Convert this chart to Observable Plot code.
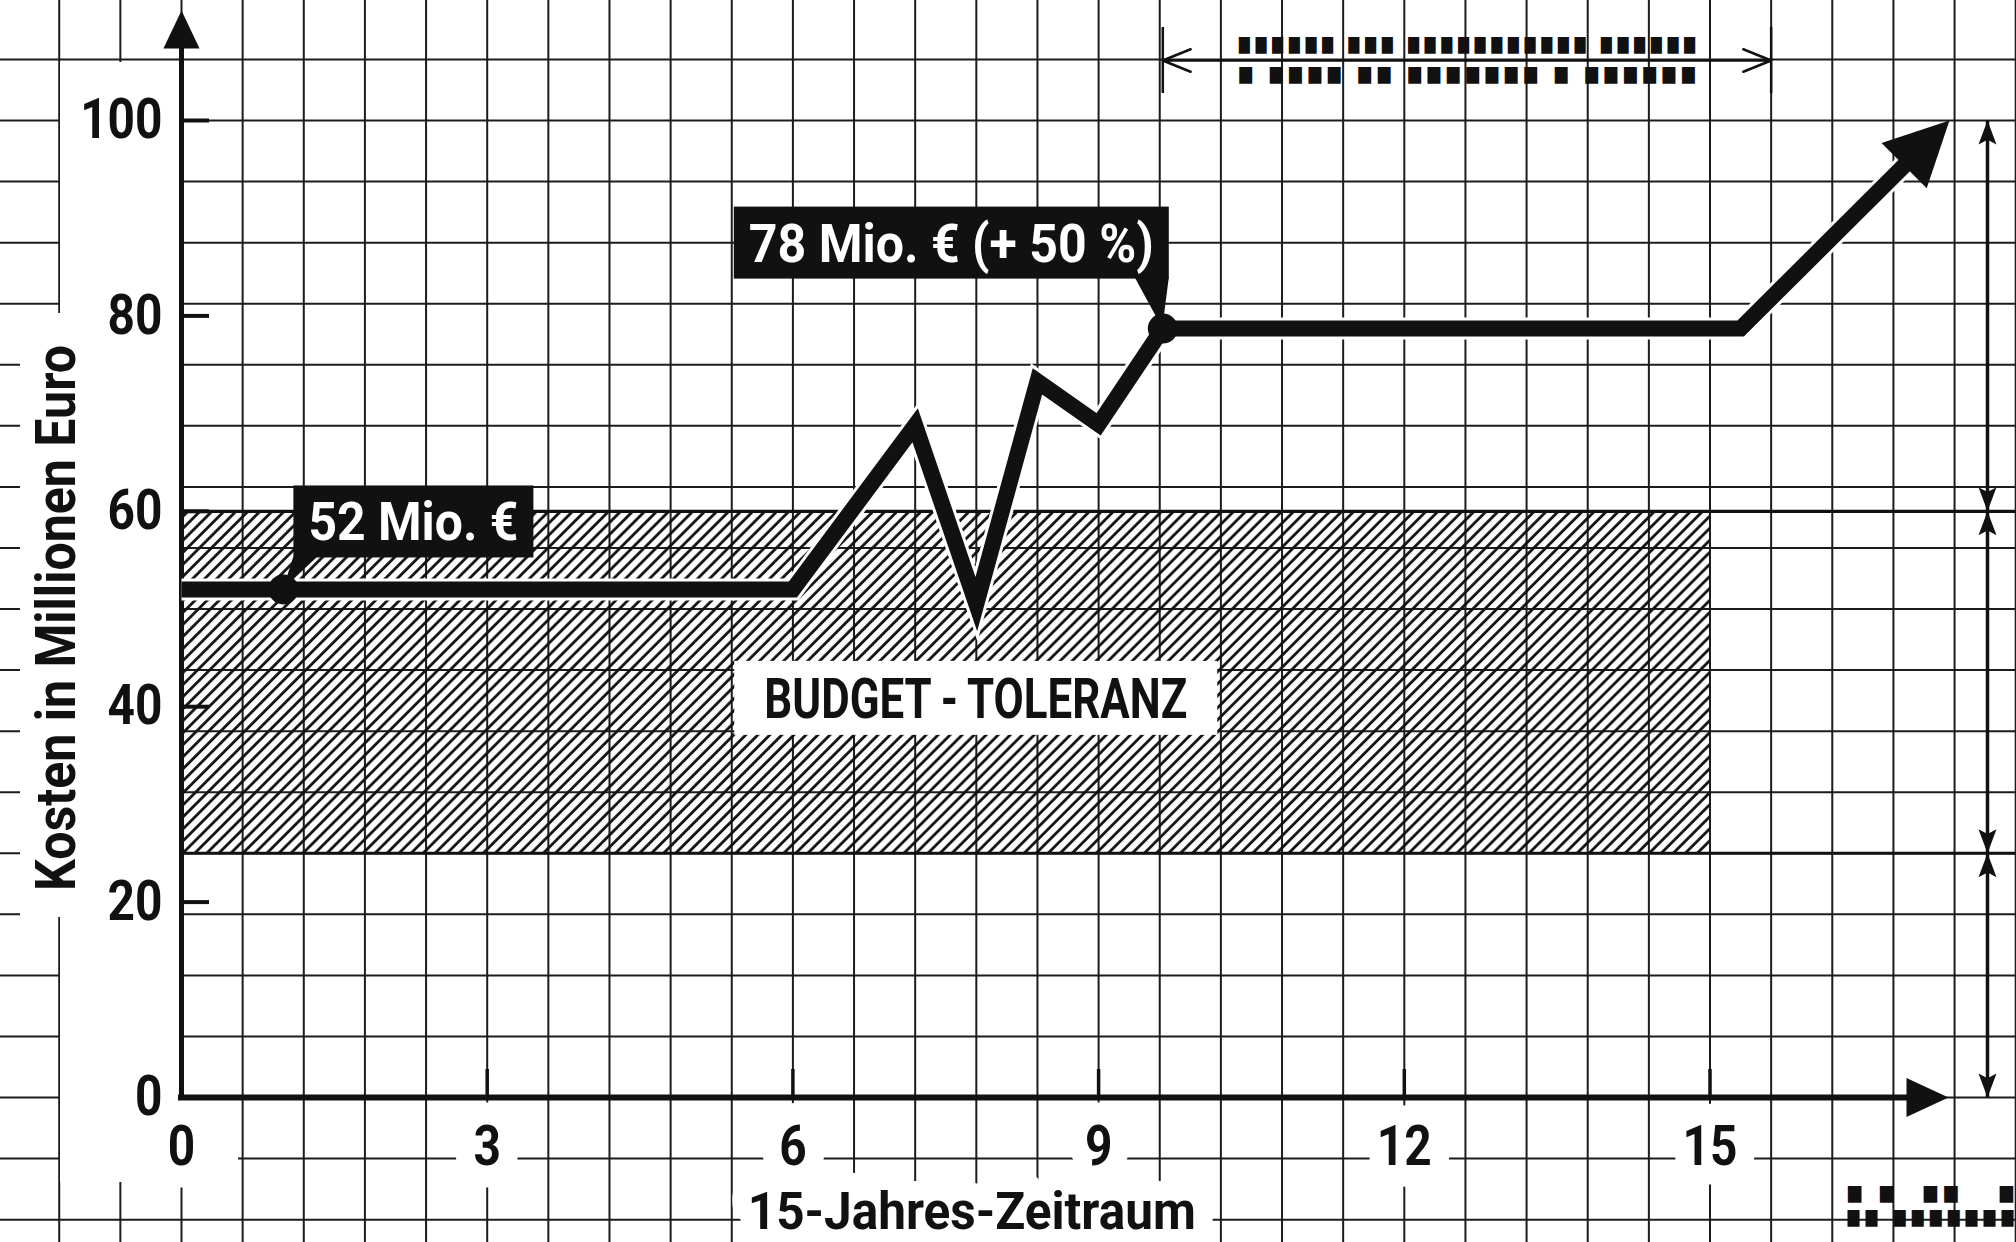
<!DOCTYPE html>
<html><head><meta charset="utf-8">
<script src="https://cdn.jsdelivr.net/npm/d3@7"></script>
<script src="https://cdn.jsdelivr.net/npm/@observablehq/plot@0.6"></script>
<style>
html,body{margin:0;padding:0;background:#fff;}
#chart{width:2016px;height:1242px;overflow:hidden;}
</style></head><body>
<svg width="0" height="0" style="position:absolute">
  <defs>
    <pattern id="hatch" patternUnits="userSpaceOnUse" width="8.5" height="8.5" patternTransform="rotate(45)">
      <line x1="1.5" y1="-1" x2="1.5" y2="9.5" stroke="#111" stroke-width="2.8"/>
    </pattern>
  </defs>
</svg>
<div id="chart"></div>
<script>
// ---------------- data ----------------
const years = [0, 1, 6, 7.2, 7.8, 8.4, 9, 9.63, 15.3, 17.35];
const costs = [52, 52, 52, 68.8, 50.5, 73.3, 68.9, 78.7, 78.7, 100];
const xTicks = [0, 3, 6, 9, 12, 15];
const yTicks = [0, 20, 40, 60, 80, 100];
const budgetStart = 0, budgetEnd = 15, budgetLow = 25, budgetHigh = 60;
const callouts = [{i: 1, label: "52 Mio. €"}, {i: 7, label: "78 Mio. € (+ 50 %)"}];
const budgetLabel = "BUDGET\u2009-\u2009TOLERANZ";
const xTitle = "15-Jahres-Zeitraum";
const yTitle = "Kosten in Millionen Euro";
const dimBreaks = [0, 25, 60, 100];
const topDimEnd = 15.6;
const noteRows = ["▮▮▮▮▮▮ ▮▮▮ ▮▮▮▮▮▮▮▮▮▮▮ ▮▮▮▮▮▮", "▮ ▮▮▮▮ ▮▮ ▮▮▮▮▮▮▮ ▮ ▮▮▮▮▮▮"];
const cornerRows = ["▮ ▮  ▮▮   ▮", "▮▮ ▮▮▮▮▮▮▮"];

// ---------------- layout ----------------
const W = 2016, H = 1242;
const mL = 181, mB = 145, pxX = 101.9, pxY = 9.77;
const mR = W - mL - 15 * pxX;
const mT = H - mB - 100 * pxY;
const xAt = px => (px - mL) / pxX;
const yAt = px => (H - mB - px) / pxY;
const xMin = xAt(0), xMax = xAt(W), yMin = yAt(H), yMax = yAt(0);
const ink = "#111";

const gridX = d3.range(-3, 31).map(k => k * 0.6);
const gridY = d3.range(-3, 19).map(k => k * 6.25);
const knock = [
  {x1: xAt(60), x2: 0, y1: yAt(62), y2: yAt(1099)},
  {x1: xAt(20), x2: 0, y1: yAt(313), y2: yAt(917)},
  {x1: xAt(60), x2: xAt(238), y1: yAt(1099), y2: yAt(1182)}
];

const series = years.map((x, i) => ({x, y: costs[i]}));
const last = series[series.length - 1], prev = series[series.length - 2];
const segDx = (last.x - prev.x) * pxX, segDy = -(last.y - prev.y) * pxY;
const segLen = Math.hypot(segDx, segDy);
const t = 1 - 40 / segLen;
const lineData = [...series.slice(0, -1), {x: prev.x + (last.x - prev.x) * t, y: prev.y + (last.y - prev.y) * t}];
const headAngle = Math.atan2(segDx, -segDy) * 180 / Math.PI;

function headSymbol(angle, ratio) {
  const a = angle * Math.PI / 180, c = Math.cos(a), s = Math.sin(a);
  const rot = (x, y) => [x * c - y * s, x * s + y * c];
  return {draw(ctx, size) {
    const h = Math.sqrt(size), w = h * ratio / 2;
    const p1 = rot(w, h), p2 = rot(-w, h), p3 = rot(0, h * 0.8);
    ctx.moveTo(0, 0); ctx.lineTo(p1[0], p1[1]); ctx.lineTo(p3[0], p3[1]); ctx.lineTo(p2[0], p2[1]); ctx.closePath();
  }};
}
function triSymbol(angle, ratio) {
  const a = angle * Math.PI / 180, c = Math.cos(a), s = Math.sin(a);
  const rot = (x, y) => [x * c - y * s, x * s + y * c];
  return {draw(ctx, size) {
    const h = Math.sqrt(size), w = h * ratio / 2;
    const p1 = rot(w, h), p2 = rot(-w, h);
    ctx.moveTo(0, 0); ctx.lineTo(p1[0], p1[1]); ctx.lineTo(p2[0], p2[1]); ctx.closePath();
  }};
}
const SQ = Math.sqrt(Math.PI);

const yAxisTip = yAt(10), xAxisTip = xAt(1948);
const dimX = xAt(1987);
const dimSegs = d3.pairs(dimBreaks);
const dimUp = dimSegs.map(([a, b]) => b);
const dimDown = dimSegs.map(([a, b]) => a);
const topDimStart = years[7];
const topDimMid = (topDimStart + topDimEnd) / 2;
const topDimY = yAt(60);
const topArrows = [{x1: topDimMid, x2: topDimStart}, {x1: topDimMid, x2: topDimEnd}];

const txt = {fontWeight: "bold", fill: ink};

const plot = Plot.plot({
  width: W, height: H,
  marginLeft: mL, marginRight: mR, marginTop: mT, marginBottom: mB,
  x: {domain: [0, 15], axis: null},
  y: {domain: [0, 100], axis: null},
  style: {background: "#fff", fontFamily: "Roboto, 'Noto Sans', sans-serif", overflow: "visible"},
  marks: [
    // graph paper
    Plot.ruleX(gridX, {y1: yMin, y2: yMax, stroke: "#1c1c1c", strokeWidth: 2}),
    Plot.ruleY(gridY, {x1: xMin, x2: xMax, stroke: "#1c1c1c", strokeWidth: 2}),
    Plot.rect(knock, {x1: "x1", x2: "x2", y1: "y1", y2: "y2", fill: "#fff"}),
    // budget band
    Plot.rect([0], {x1: budgetStart, x2: budgetEnd, y1: budgetLow, y2: budgetHigh, fill: "url(#hatch)"}),
    Plot.ruleY([budgetLow, budgetHigh], {x1: budgetStart, x2: xMax, stroke: ink, strokeWidth: 3.2}),
    Plot.text([budgetLabel], {x: (budgetStart + budgetEnd) / 2, y: (budgetLow + budgetHigh) / 2, dx: 30, dy: 18,
      text: d => d, fontSize: 55, ...txt}),
    // tick labels & titles
    Plot.text(xTicks, {x: d => d, y: 0, dy: 50, text: d => String(d), fontSize: 55, ...txt,
      stroke: "#fff", strokeWidth: 44, strokeLinejoin: "round"}),
    Plot.text(yTicks, {x: 0, y: d => d, dx: -19, textAnchor: "end", text: d => String(d), fontSize: 55, ...txt,
      stroke: "#fff", strokeWidth: 8, strokeLinejoin: "round"}),
    Plot.text([xTitle], {frameAnchor: "bottom", textAnchor: "middle", dx: 26, dy: 131, lineAnchor: "bottom", text: d => d, fontSize: 51, ...txt,
      stroke: "#fff", strokeWidth: 40, strokeLinejoin: "round"}),
    Plot.text([yTitle], {frameAnchor: "left", textAnchor: "middle", lineAnchor: "middle", dx: -124, dy: 9, rotate: -90, text: d => d, fontSize: 55, ...txt}),
    // axes
    Plot.ruleY([0], {x1: xAt(178), x2: xAxisTip - 20 / pxX, stroke: ink, strokeWidth: 6}),
    Plot.ruleX([0], {y1: 0, y2: yAxisTip - 20 / pxY, stroke: ink, strokeWidth: 5}),
    Plot.ruleX(xTicks.filter(d => d > 0), {y1: 0, y2: 28 / pxY, stroke: ink, strokeWidth: 3.5}),
    Plot.ruleY(yTicks.filter(d => d > 0), {x1: 0, x2: 28 / pxX, stroke: ink, strokeWidth: 4}),
    Plot.dot([0], {x: 0, y: yAxisTip, r: 38 / SQ, symbol: triSymbol(0, 0.95), fill: ink, stroke: "none"}),
    Plot.dot([0], {x: xAxisTip, y: 0, r: 42 / SQ, symbol: triSymbol(90, 0.93), fill: ink, stroke: "none"}),
    // dimension arrows (right)
    Plot.ruleX([dimX], {y1: dimBreaks[0], y2: dimBreaks[dimBreaks.length - 1], stroke: ink, strokeWidth: 3.5}),
    Plot.dot(dimUp, {x: dimX, y: d => d, r: 24 / SQ, symbol: headSymbol(0, 0.75), fill: ink, stroke: "none"}),
    Plot.dot(dimDown, {x: dimX, y: d => d, r: 24 / SQ, symbol: headSymbol(180, 0.75), fill: ink, stroke: "none"}),
    // dimension arrow (top)
    Plot.arrow(topArrows, {x1: "x1", x2: "x2", y1: topDimY, y2: topDimY, stroke: ink, strokeWidth: 2.5, headLength: 18, headAngle: 44}),
    Plot.ruleX([topDimStart, topDimEnd], {y1: yAt(93), y2: yAt(27), stroke: ink, strokeWidth: 2.5}),
    Plot.text([noteRows[0]], {x: topDimMid, y: topDimY, dy: -17, text: d => d, fontFamily: "DejaVu Sans", fontSize: 22, fill: ink}),
    Plot.text([noteRows[1]], {x: topDimMid, y: topDimY, dy: 13, text: d => d, fontFamily: "DejaVu Sans", fontSize: 22, fill: ink}),
    Plot.text([cornerRows[0]], {x: xMax, y: yAt(1192), textAnchor: "end", text: d => d, fontFamily: "DejaVu Sans", fontSize: 22, fill: ink}),
    Plot.text([cornerRows[1]], {x: xMax, y: yAt(1216), textAnchor: "end", text: d => d, fontFamily: "DejaVu Sans", fontSize: 22, fill: ink}),
    // cost line
    Plot.line(lineData, {x: "x", y: "y", stroke: "#fff", strokeWidth: 22, strokeLinejoin: "miter", strokeLinecap: "butt", strokeMiterlimit: 10}),
    Plot.line(lineData, {x: "x", y: "y", stroke: ink, strokeWidth: 16, strokeLinejoin: "miter", strokeLinecap: "butt", strokeMiterlimit: 10}),
    Plot.dot([last], {x: "x", y: "y", r: 64 / SQ, symbol: triSymbol(headAngle, 1.0), fill: ink, stroke: "none"}),
    Plot.dot(callouts, {x: d => years[d.i], y: d => costs[d.i], r: 15, fill: ink, stroke: "none"}),
    // callouts
    Plot.text([callouts[0]], {x: d => years[d.i], y: d => costs[d.i], text: d => d.label, dx: 25, dy: -49,
      textAnchor: "start", lineAnchor: "bottom", fontSize: 54, fontWeight: "bold", fill: "#fff"}),
    Plot.text([callouts[1]], {x: d => years[d.i], y: d => costs[d.i], text: d => d.label, dx: -9, dy: -67,
      textAnchor: "end", lineAnchor: "bottom", fontSize: 54, fontWeight: "bold", fill: "#fff"})
  ]
});
document.getElementById("chart").append(plot);

// ---------------- post: condensed type, label boxes ----------------
const svg = plot.tagName.toLowerCase() === "svg" ? plot : plot.querySelector("svg");
const widths = {};
widths[xTitle] = 448; widths[yTitle] = 546; widths[budgetLabel] = 423;
widths[callouts[0].label] = 210; widths[callouts[1].label] = 405;
widths[noteRows[0]] = 462; widths[noteRows[1]] = 462;
widths[cornerRows[0]] = 172; widths[cornerRows[1]] = 172;
svg.querySelectorAll("text").forEach(el => {
  const s = el.textContent;
  let w = widths[s];
  if (w == null && /^\d+$/.test(s)) w = el.getComputedTextLength() * 0.87;
  if (w != null) { el.setAttribute("textLength", w); el.setAttribute("lengthAdjust", "spacingAndGlyphs"); }
});

function gbox(el) {
  const b = el.getBBox();
  const m = svg.getScreenCTM().inverse().multiply(el.getScreenCTM());
  const p = [new DOMPoint(b.x, b.y).matrixTransform(m), new DOMPoint(b.x + b.width, b.y + b.height).matrixTransform(m)];
  return {x1: Math.min(p[0].x, p[1].x), x2: Math.max(p[0].x, p[1].x), y1: Math.min(p[0].y, p[1].y), y2: Math.max(p[0].y, p[1].y)};
}
const NS = "http://www.w3.org/2000/svg";
const sx = plot.scale("x"), sy = plot.scale("y");
function findText(s) { return [...svg.querySelectorAll("text")].find(el => el.textContent === s); }

// budget label knockout
{
  const el = findText(budgetLabel);
  const b = gbox(el);
  const r = document.createElementNS(NS, "rect");
  r.setAttribute("x", b.x1 - 30); r.setAttribute("y", b.y1 - 6);
  r.setAttribute("width", b.x2 - b.x1 + 60); r.setAttribute("height", b.y2 - b.y1 + 10);
  r.setAttribute("fill", "#fff");
  svg.insertBefore(r, el.parentNode);
}
// black callout boxes with pointer tails
callouts.forEach((c, k) => {
  const el = findText(c.label);
  const b = gbox(el);
  const g = document.createElementNS(NS, "g");
  const x1 = b.x1 - 15, x2 = b.x2 + 15, y1 = b.y1 - 5, y2 = b.y2 + 4;
  const r = document.createElementNS(NS, "rect");
  r.setAttribute("x", x1); r.setAttribute("y", y1); r.setAttribute("width", x2 - x1); r.setAttribute("height", y2 - y1);
  r.setAttribute("fill", ink);
  g.append(r);
  const px = sx.apply(years[c.i]), py = sy.apply(costs[c.i]);
  const tail = document.createElementNS(NS, "polygon");
  const pts = k === 0 ? [[x1, y2 - 1], [x1 + 24, y2 - 1], [px, py]] : [[x2 - 34, y2 - 1], [x2, y2 - 1], [px, py]];
  tail.setAttribute("points", pts.map(p => p.join(",")).join(" "));
  tail.setAttribute("fill", ink);
  g.append(tail);
  svg.insertBefore(g, el.parentNode);
});
</script>
</body></html>
